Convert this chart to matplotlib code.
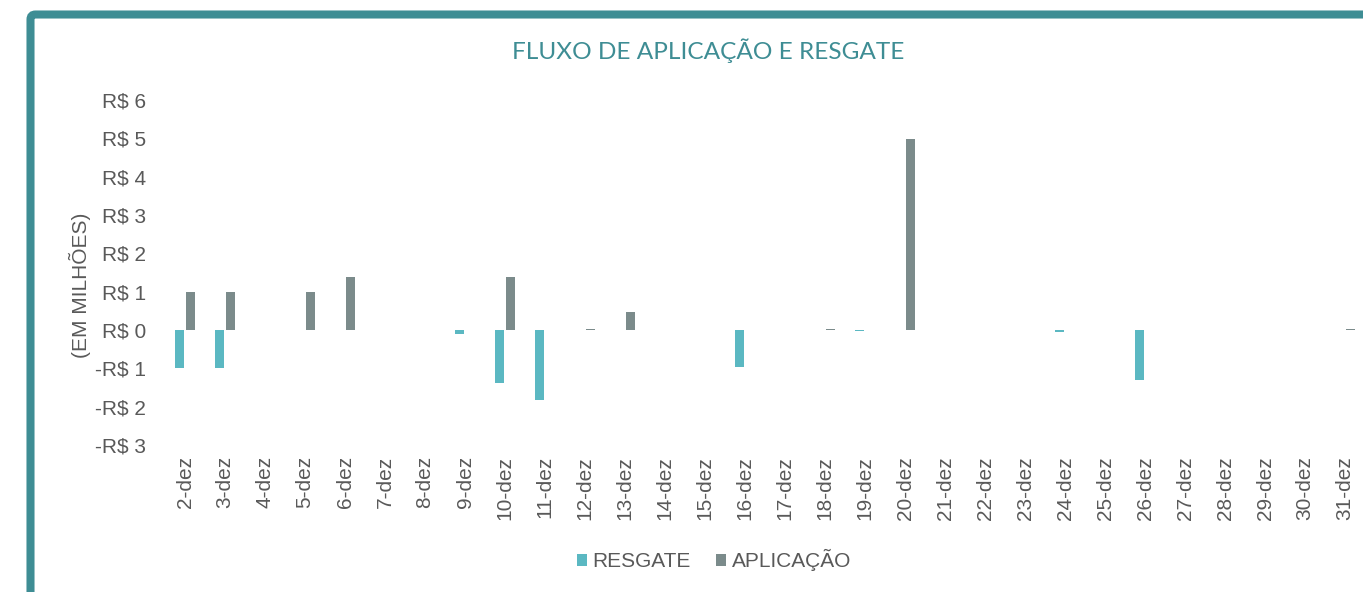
import matplotlib
matplotlib.use("Agg")
import matplotlib.pyplot as plt
import numpy as np
from matplotlib.patches import FancyBboxPatch
from matplotlib.transforms import IdentityTransform

# ---------- Dados (em milhões de R$) ----------

dias = ['2-dez', '3-dez', '4-dez', '5-dez', '6-dez', '7-dez', '8-dez', '9-dez',
        '10-dez', '11-dez', '12-dez', '13-dez', '14-dez', '15-dez', '16-dez',
        '17-dez', '18-dez', '19-dez', '20-dez', '21-dez', '22-dez', '23-dez',
        '24-dez', '25-dez', '26-dez', '27-dez', '28-dez', '29-dez', '30-dez', '31-dez']

resgate = [-1.0, -1.0, 0, 0, 0, 0, 0, -0.1, -1.39, -1.83, 0, 0, 0, 0, -0.96,
           0, 0, -0.02, 0, 0, 0, 0, -0.05, 0, -1.31, 0, 0, 0, 0, 0]

aplicacao = [1.0, 1.0, 0, 1.0, 1.38, 0, 0, 0, 1.38, 0, 0.03, 0.47, 0, 0, 0,
             0, 0.02, 0, 4.98, 0, 0, 0, 0, 0, 0, 0, 0, 0, 0, 0.02]

ticks_y = [-3, -2, -1, 0, 1, 2, 3, 4, 5, 6]

# ---------- Estilo ----------

cor_resgate = '#5BB8C2'
cor_aplic = '#7B8B8B'
cor_borda = '#3E8D94'
cor_texto = '#595959'
fonte = 'Liberation Sans'

fig = plt.figure(figsize=(13.63, 5.92), dpi=100)

# moldura arredondada (cortada à direita e embaixo)
moldura = FancyBboxPatch((30.5, -60), 2000, 592 - 14.5 + 60,
                         boxstyle="round,pad=0,rounding_size=5",
                         transform=IdentityTransform(), fill=False,
                         lw=5.8, ec=cor_borda)
fig.add_artist(moldura)

ax = fig.add_axes([165 / 1363, 1 - 445 / 592, 1200 / 1363, 345 / 592])

x = np.arange(len(dias))
larg = 0.225
ax.bar(x - 0.146, resgate, larg, color=cor_resgate, label='RESGATE')
ax.bar(x + 0.146, aplicacao, larg, color=cor_aplic, label='APLICAÇÃO')

ax.set_xlim(-0.5, len(dias) - 0.5)
ax.set_ylim(-3, 6)
ax.set_yticks(ticks_y)
ax.set_yticklabels([('-R$ %d' % -v) if v < 0 else ('R$ %d' % v) for v in ticks_y],
                   fontsize=15, color=cor_texto, family=fonte)
ax.set_xticks(x)
ax.set_xticklabels(dias, rotation=90, fontsize=15, color=cor_texto, family=fonte)
ax.tick_params(axis='y', length=0, pad=13.5)
ax.tick_params(axis='x', length=0, pad=8)
for s in ax.spines.values():
    s.set_visible(False)

fig.text(80 / 1363, 1 - 285 / 592, '(EM MILHÕES)', rotation=90, ha='center', va='center',
         fontsize=15, color=cor_texto, family=fonte)

fig.text(708 / 1363, 1 - 51 / 592, 'FLUXO DE APLICAÇÃO E RESGATE', ha='center', va='center',
         fontsize=17.6, color=cor_borda, family='Lato')

fig.legend(loc='center', bbox_to_anchor=(714 / 1363, 1 - 560 / 592), ncol=2, frameon=False,
           handlelength=0.5, handleheight=0.5, handletextpad=0.25, columnspacing=1.2,
           prop={'family': fonte, 'size': 15}, labelcolor=cor_texto)

fig.savefig('out.png', dpi=100)
